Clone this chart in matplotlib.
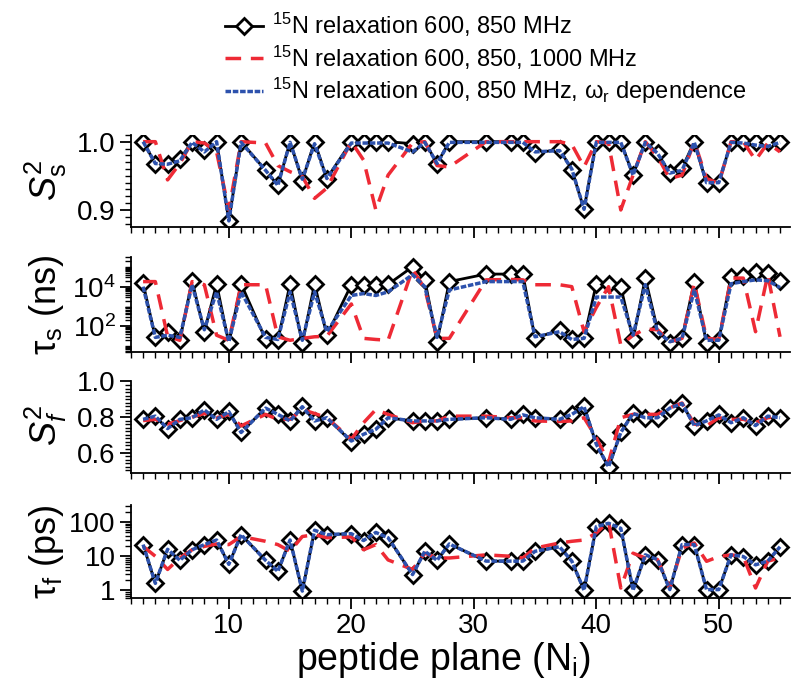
import numpy as np
import matplotlib
matplotlib.use("Agg")
import matplotlib.pyplot as plt
from matplotlib.ticker import FixedLocator, MultipleLocator, LogLocator, NullFormatter
from matplotlib.legend_handler import HandlerLine2D

plt.rcParams['font.family'] = ['Liberation Sans', 'DejaVu Sans']
plt.rcParams['mathtext.fontset'] = 'custom'
plt.rcParams['mathtext.rm'] = 'Liberation Sans'
plt.rcParams['mathtext.it'] = 'Liberation Sans:italic'

# peptide planes that have data
residues = [3, 4, 5, 6, 7, 8, 9, 10, 11, 13, 14, 15, 16, 17, 18, 20, 21, 22, 23, 25, 26, 27, 28,
            31, 33, 34, 35, 37, 38, 39, 40, 41, 42, 43, 44, 45, 46, 47, 48, 49, 50, 51, 52, 53, 54, 55]

# S2 slow
s2s_850 = [1.0, 0.968, 0.967, 0.974, 1.0, 0.988, 1.0, 0.884, 1.0, 0.958, 0.936, 1.0, 0.943, 1.0, 0.946,
           1.0, 1.0, 1.0, 1.0, 0.997, 1.0, 0.968, 1.0,
           1.0, 1.0, 1.0, 0.983, 0.989, 0.959, 0.901, 1.0, 1.0, 1.0, 0.951, 1.0, 0.983, 0.954, 0.961,
           1.0, 0.939, 0.939, 1.0, 1.0, 1.0, 1.0, 1.0]
s2s_1000 = [1.0, 1.0, 0.944, 0.968, 1.0, 0.998, 0.985, 0.9, 1.0, 0.998, 0.965, 0.956, 0.949, 0.917, 0.932,
            1.0, 0.973, 0.9, 0.951, 0.998, 1.0, 0.965, 0.963,
            1.0, 1.0, 1.0, 1.0, 1.0, 0.996, 0.963, 1.0, 0.998, 0.9, 0.951, 1.0, 0.978, 0.946, 0.951,
            1.0, 0.946, 0.939, 1.0, 1.0, 0.973, 0.998, 0.985]
s2s_wr = [1.0, 0.968, 0.967, 0.972, 0.999, 0.985, 1.0, 0.884, 0.999, 0.958, 0.936, 0.999, 0.945, 0.997, 0.946,
          0.998, 0.998, 0.998, 0.998, 0.985, 0.999, 0.968, 0.999,
          0.999, 0.999, 0.999, 0.985, 0.987, 0.96, 0.901, 0.999, 0.999, 0.999, 0.951, 0.999, 0.983, 0.954, 0.958,
          0.999, 0.94, 0.94, 0.999, 0.998, 0.995, 0.993, 0.999]

# tau slow (ns)
taus_850 = [15000, 28, 54, 20, 20000, 54, 14000, 14, 14000, 22, 20, 14000, 14, 14000, 36,
            12500, 12500, 12500, 13000, 100000, 22000, 17, 18000,
            43000, 43000, 43000, 25, 68, 22, 25, 14000, 14000, 10000, 22, 27000, 68, 14, 25,
            18000, 14, 20, 32000, 36000, 55000, 50000, 20000]
taus_1000 = [18000, 18000, 32, 20, 18000, 12500, 36, 20, 12500, 12500, 30, 20, 25, 30, 32,
             1350, 25, 22, 20, 74000, 8000, 25, 25,
             22000, 23000, 22000, 12500, 12500, 10000, 54, 900, 10000, 11.5, 36, 74, 68, 17, 25,
             15000, 25, 22, 27000, 27000, 54, 40000, 30]
taus_wr = [10000, 28, 36, 28, 12500, 68, 5500, 17, 5500, 28, 22, 5500, 20, 5500, 54,
           3600, 4500, 3600, 5500, 40000, 10000, 28, 6800,
           18000, 18000, 18000, 30, 54, 22, 25, 3000, 3000, 3000, 36, 12500, 54, 17, 25,
           6800, 20, 20, 14000, 18000, 22000, 20000, 9000]

# S2 fast
s2f_850 = [0.787, 0.805, 0.731, 0.787, 0.796, 0.842, 0.787, 0.833, 0.713, 0.852, 0.815, 0.778, 0.861, 0.778, 0.796,
           0.662, 0.703, 0.731, 0.796, 0.778, 0.778, 0.778, 0.787,
           0.796, 0.787, 0.815, 0.796, 0.787, 0.815, 0.861, 0.647, 0.517, 0.713, 0.824, 0.796, 0.796, 0.852, 0.879,
           0.75, 0.778, 0.815, 0.768, 0.796, 0.75, 0.805, 0.796]
s2f_1000 = [0.78, 0.787, 0.76, 0.78, 0.80, 0.82, 0.796, 0.815, 0.75, 0.815, 0.787, 0.787, 0.842, 0.82, 0.796,
            0.675, 0.768, 0.842, 0.815, 0.768, 0.778, 0.778, 0.805,
            0.805, 0.796, 0.796, 0.778, 0.775, 0.778, 0.796, 0.684, 0.545, 0.796, 0.815, 0.815, 0.815, 0.852, 0.879,
            0.76, 0.75, 0.796, 0.787, 0.787, 0.768, 0.796, 0.805]
s2f_wr = [0.787, 0.805, 0.735, 0.787, 0.796, 0.84, 0.787, 0.83, 0.713, 0.85, 0.815, 0.778, 0.858, 0.778, 0.796,
          0.665, 0.703, 0.731, 0.796, 0.778, 0.778, 0.778, 0.787,
          0.796, 0.787, 0.812, 0.796, 0.787, 0.815, 0.858, 0.647, 0.52, 0.713, 0.82, 0.796, 0.796, 0.85, 0.876,
          0.752, 0.778, 0.812, 0.768, 0.796, 0.752, 0.805, 0.796]

# tau fast (ps)
tauf_850 = [22, 1.6, 16, 7.6, 15.5, 22, 30, 5.8, 43, 7.6, 3.6, 30, 0.95, 58, 43,
            46, 29, 50, 35, 2.9, 14, 7.6, 23,
            7.2, 7.2, 7.2, 14, 19, 7.2, 1.0, 74, 93, 66, 1.0, 11, 8, 1.05, 22,
            22, 1.05, 1.05, 11, 9.8, 5.6, 7.2, 19]
tauf_1000 = [19.5, 10, 4.1, 8.9, 15.5, 19.5, 23, 22, 38, 27.5, 22, 14, 38, 43, 35,
             37, 15.5, 22, 7.8, 4.1, 12.3, 8.9, 8.9,
             11, 10, 8.9, 17.4, 24.5, 27.5, 30, 48, 105, 1.17, 12.3, 8.9, 8, 1.17, 17.4,
             24.5, 7.1, 9.8, 11, 9.8, 1.17, 7.2, 8.9]
tauf_wr = [22, 1.6, 16, 7.6, 15.5, 22, 30, 5.8, 43, 7.6, 3.6, 30, 0.95, 58, 43,
           46, 29, 50, 35, 2.9, 14, 7.6, 23,
           7.2, 7.2, 7.2, 14, 19, 7.2, 1.0, 74, 93, 66, 1.0, 11, 8, 1.05, 22,
           22, 1.05, 1.05, 11, 9.8, 5.6, 7.2, 19]

labels = ['$^{15}$N relaxation 600, 850 MHz',
          '$^{15}$N relaxation 600, 850, 1000 MHz',
          r'$^{15}$N relaxation 600, 850 MHz, $\mathrm{\omega}_{\mathrm{r}}$ dependence']

black = '#000000'
red = '#ee2a35'
blue = '#2d52ad'

fig = plt.figure(figsize=(7.93, 6.88), dpi=100)

# axes boxes in figure fractions [left, bottom, width, height]
boxes = [[0.165, 0.670, 0.831, 0.134],
         [0.165, 0.488, 0.831, 0.138],
         [0.165, 0.3125, 0.831, 0.133],
         [0.165, 0.131, 0.831, 0.135]]

panels = [(s2s_850, s2s_1000, s2s_wr), (taus_850, taus_1000, taus_wr),
          (s2f_850, s2f_1000, s2f_wr), (tauf_850, tauf_1000, tauf_wr)]

axes = []
for i, (box, (d850, d1000, dwr)) in enumerate(zip(boxes, panels)):
    ax = fig.add_axes(box)
    l1, = ax.plot(residues, d850, color=black, lw=2, marker='D', ms=8, mfc='white', mec=black, mew=2,
                  zorder=2, label=labels[0])
    l2, = ax.plot(residues, d1000, color=red, lw=2.5, ls=(0, (4.5, 2.8)), zorder=3, label=labels[1])
    l3, = ax.plot(residues, dwr, color=blue, lw=2.5, ls=(0, (1.6, 0.5)), zorder=4, label=labels[2])
    ax.spines['top'].set_visible(False)
    ax.spines['right'].set_visible(False)
    ax.spines['left'].set_linewidth(1.3)
    ax.spines['bottom'].set_linewidth(1.3)
    ax.set_xlim(2, 55.8)
    ax.xaxis.set_major_locator(FixedLocator([10, 20, 30, 40, 50]))
    ax.xaxis.set_minor_locator(MultipleLocator(1))
    ax.tick_params(which='major', direction='out', length=8, width=1.3, labelsize=20, pad=3)
    ax.tick_params(which='minor', direction='out', length=4.5, width=1.0)
    if i < 3:
        ax.tick_params(axis='x', labelbottom=False)
    axes.append(ax)

# S2 slow
axes[0].set_ylim(0.875, 1.01)
axes[0].set_yticks([0.9, 1.0])
axes[0].set_yticklabels(['0.9', '1.0'])
axes[0].yaxis.set_minor_locator(MultipleLocator(0.01))

# tau slow
axes[1].set_yscale('log')
axes[1].set_ylim(5, 3e5)
axes[1].yaxis.set_major_locator(FixedLocator([1e2, 1e4]))
axes[1].set_yticklabels(['10$^2$', '10$^4$'])
axes[1].yaxis.set_minor_locator(LogLocator(base=10, subs=np.arange(1, 10), numticks=20))
axes[1].yaxis.set_minor_formatter(NullFormatter())

# S2 fast
axes[2].set_ylim(0.485, 1.0)
axes[2].set_yticks([0.6, 0.8, 1.0])
axes[2].set_yticklabels(['0.6', '0.8', '1.0'])
axes[2].yaxis.set_minor_locator(MultipleLocator(0.02))

# tau fast
axes[3].set_yscale('log')
axes[3].set_ylim(0.6, 320)
axes[3].yaxis.set_major_locator(FixedLocator([1, 10, 100]))
axes[3].set_yticklabels(['1', '10', '100'])
axes[3].yaxis.set_minor_locator(LogLocator(base=10, subs=np.arange(2, 10), numticks=20))
axes[3].yaxis.set_minor_formatter(NullFormatter())

# y labels
ylabels = [r'$S^2_{\mathrm{s}}$', r'$\mathrm{\tau}_{\mathrm{s}}$ (ns)', r'$S^2_f$', r'$\mathrm{\tau}_{\mathrm{f}}$ (ps)']
ypos = [180, 305, 425, 552]
for lab, yp in zip(ylabels, ypos):
    fig.text(46 / 793, 1 - yp / 688, lab, rotation=90, ha='center', va='center', fontsize=26)

fig.text(443 / 793, 1 - 660 / 688, 'peptide plane (N$_{\\mathrm{i}}$)', ha='center', va='center', fontsize=27)


# legend with the diamond at the left end of the line
class LeftMarker(HandlerLine2D):
    def get_xdata(self, legend, xdescent, ydescent, width, height, fontsize):
        xdata, xm = super().get_xdata(legend, xdescent, ydescent, width, height, fontsize)
        return xdata, np.array([-xdescent + 0.18 * width])


fig.legend(handles=[l1, l2, l3], loc='upper left', bbox_to_anchor=(225 / 793, 1 - 11 / 688),
           frameon=False, fontsize=17, handlelength=1.6, handletextpad=0.4, labelspacing=0.18,
           borderpad=0, borderaxespad=0, numpoints=1, handler_map={l1: LeftMarker(numpoints=1)})

fig.savefig('out.png', dpi=100)
